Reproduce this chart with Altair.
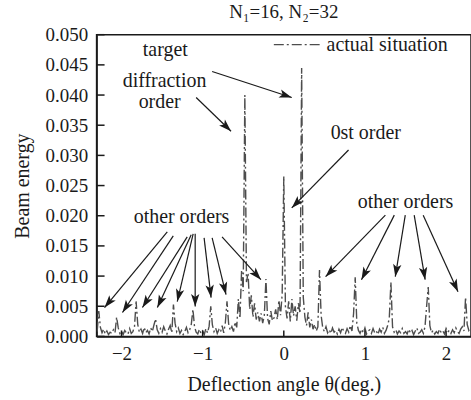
import math
import altair as alt
import pandas as pd

# ---------------- data ----------------
angle_start = -2.30
angle_step = 0.02
# beam energy, in units of 1e-3 (one value per 0.02 deg)
energy_milli = [
    0.8, 4.2, 1.5, 0.6, 1.2, 0.4, 0.9, 0.3, 0.7, 0.5,
    1.1, 0.6, 3.2, 1.4, 0.5, 0.9, 0.3, 1.0, 0.6, 0.4,
    1.3, 0.5, 0.8, 1.6, 5.8, 2.0, 0.7, 1.2, 0.5, 1.5,
    0.6, 1.0, 0.4, 1.4, 0.8, 1.9, 2.9, 1.1, 0.5, 1.3,
    0.7, 1.6, 0.9, 0.4, 1.2, 1.8, 0.6, 5.3, 2.2, 0.8,
    1.4, 0.5, 1.0, 0.3, 0.8, 1.5, 0.6, 1.1, 2.0, 4.5,
    1.6, 0.7, 0.4, 1.2, 0.5, 0.9, 0.3, 1.3, 0.6, 1.7,
    5.0, 1.9, 0.8, 1.4, 0.5, 1.1, 0.7, 1.8, 0.6, 2.3,
    5.8, 2.1, 1.0, 1.6, 0.8, 2.4, 1.5, 6.2, 3.0, 11.0,
    7.5, 40.0, 9.0, 10.5, 4.5, 6.8, 3.2, 5.5, 2.8, 4.0,
    2.5, 3.8, 2.2, 3.5, 9.5, 3.0, 2.0, 4.2, 2.6, 3.1,
    4.5, 2.8, 6.0, 3.5, 7.0, 26.5, 5.0, 3.0, 5.8, 2.5,
    6.2, 3.4, 5.0, 2.6, 5.5, 3.8, 44.5, 6.5, 3.2, 1.8,
    4.0, 1.5, 2.8, 1.2, 2.0, 0.9, 1.6, 11.0, 3.5, 1.4,
    0.8, 1.6, 0.6, 1.1, 0.5, 1.4, 0.7, 1.0, 0.4, 1.2,
    0.6, 1.5, 0.8, 0.5, 1.3, 0.7, 1.8, 0.9, 3.8, 9.8,
    2.2, 1.0, 0.5, 1.2, 0.6, 1.4, 0.4, 0.9, 1.1, 0.5,
    1.3, 0.6, 0.9, 0.3, 1.2, 0.7, 1.5, 0.5, 1.0, 1.8,
    3.0, 9.0, 1.6, 0.7, 1.1, 0.4, 0.9, 0.6, 1.3, 0.5,
    0.8, 0.4, 1.2, 0.6, 1.0, 0.3, 0.9, 1.4, 0.5, 0.7,
    1.1, 0.5, 1.6, 5.0, 8.2, 1.8, 0.6, 1.0, 0.4, 0.8,
    0.5, 1.2, 0.6, 0.9, 0.4, 1.3, 0.7, 1.0, 0.5, 1.1,
    0.6, 1.4, 0.8, 0.5, 1.2, 1.6, 0.9, 6.5, 2.0, 1.0,
    1.5,
]
angles = [round(angle_start + angle_step * i, 2) for i in range(len(energy_milli))]

x_tick_values = [-2, -1, 0, 1, 2]
y_tick_values = [0.000, 0.005, 0.010, 0.015, 0.020, 0.025, 0.030, 0.035, 0.040, 0.045, 0.050]

title_text = "N₁=16, N₂=32"
legend_label = "actual situation"

label_text = ["target", "diffraction", "order", "0st order", "other orders", "other orders"]
label_x = [-1.46, -1.47, -1.53, 1.01, -1.26, 1.50]
label_y = [0.0474, 0.0424, 0.0388, 0.0337, 0.0198, 0.0223]

arrow_x1 = [-0.883, -1.080, 0.798,
            -1.436, -1.362, -1.190, -1.141, -1.117, -1.092, -0.982, -0.883, -0.761,
            1.252, 1.362, 1.497, 1.607, 1.718]
arrow_y1 = [0.0439, 0.0396, 0.0309,
            0.01733, 0.01667, 0.0165, 0.01683, 0.0170, 0.0170, 0.01634, 0.01634, 0.0165,
            0.0201, 0.0201, 0.0201, 0.0201, 0.0201]
arrow_x2 = [0.098, -0.650, 0.098,
            -2.209, -1.988, -1.742, -1.558, -1.313, -1.092, -0.896, -0.712, -0.282,
            0.515, 0.957, 1.374, 1.742, 2.147]
arrow_y2 = [0.0396, 0.0340, 0.0213,
            0.00479, 0.00396, 0.00479, 0.00479, 0.00578, 0.00495, 0.00644, 0.00693, 0.00941,
            0.0099, 0.0094, 0.0099, 0.0094, 0.0074]

# ---------------- layout / style ----------------
W, H = 376, 303
X_DOMAIN = [-2.307, 2.307]
Y_DOMAIN = [0.0, 0.05]
px_x = W / (X_DOMAIN[1] - X_DOMAIN[0])
px_y = H / (Y_DOMAIN[1] - Y_DOMAIN[0])
FONT = "Liberation Serif"
INK = "#1a1a1a"
LINE = "#4d4d4d"
DASH = [10, 3, 2, 3]
TXT = 20

xscale = alt.Scale(domain=X_DOMAIN, nice=False, zero=False)
yscale = alt.Scale(domain=Y_DOMAIN, nice=False, zero=False)
xaxis = alt.Axis(title="Deflection angle θ(deg.)", values=x_tick_values, format="d",
                 tickSize=0, labelPadding=8, titlePadding=11, grid=False)
yaxis = alt.Axis(title="Beam energy", values=y_tick_values, format=".3f",
                 tickSize=0, labelPadding=9, titlePadding=13, grid=False)


def X(field):
    return alt.X(field, type="quantitative", scale=xscale, axis=xaxis)


def Y(field):
    return alt.Y(field, type="quantitative", scale=yscale, axis=yaxis)


series = pd.DataFrame({"angle": angles, "energy": [v / 1000 for v in energy_milli]})

line = alt.Chart(series).mark_line(
    color=LINE, strokeWidth=1.4, strokeDash=DASH, clip=True
).encode(x=X("angle"), y=Y("energy"))

ytick = alt.Chart(pd.DataFrame({"v": y_tick_values})).mark_rule(
    color=INK, strokeWidth=1.5
).encode(y=Y("v"), x=alt.value(0), x2=alt.value(8))

xtick = alt.Chart(pd.DataFrame({"v": x_tick_values})).mark_rule(
    color=INK, strokeWidth=1.5
).encode(x=X("v"), y=alt.value(H), y2=alt.value(H - 6))

arrows = pd.DataFrame({"x1": arrow_x1, "y1": arrow_y1, "x2": arrow_x2, "y2": arrow_y2})
arrows["ang"] = [
    math.degrees(math.atan2((b - a) * px_x, (d - c) * px_y)) % 360
    for a, b, c, d in zip(arrow_x1, arrow_x2, arrow_y1, arrow_y2)
]

shafts = alt.Chart(arrows).mark_rule(color=INK, strokeWidth=1.2).encode(
    x=X("x1"), y=Y("y1"), x2="x2", y2="y2"
)
heads = alt.Chart(arrows).mark_point(
    shape="M0,0 L0.7,2.1 L0,1.6 L-0.7,2.1 Z", filled=True, size=144,
    color=INK, opacity=1, strokeWidth=0
).encode(x=X("x2"), y=Y("y2"), angle=alt.Angle("ang:Q", scale=None))

labels = alt.Chart(pd.DataFrame({"t": label_text, "x": label_x, "y": label_y})).mark_text(
    font=FONT, fontSize=TXT, color=INK, baseline="middle", align="center"
).encode(x=X("x"), y=Y("y"), text="t:N")

leg_df = pd.DataFrame({"t": [legend_label]})
leg_line = alt.Chart(leg_df).mark_rule(color=LINE, strokeWidth=1.4, strokeDash=DASH).encode(
    x=alt.value(178), x2=alt.value(226), y=alt.value(10)
)
leg_text = alt.Chart(leg_df).mark_text(
    font=FONT, fontSize=TXT, color=INK, align="left", baseline="middle"
).encode(x=alt.value(231), y=alt.value(10), text="t:N")

chart = alt.layer(line, ytick, xtick, shafts, heads, labels, leg_line, leg_text).properties(
    width=W, height=H,
    title=alt.TitleParams(text=title_text, font=FONT, fontSize=19, fontWeight="normal",
                          color=INK, anchor="middle", offset=4),
    autosize=alt.AutoSizeParams(type="none"),
    padding={"left": 97, "top": 34, "right": 0, "bottom": 63},
).configure(font=FONT).configure_view(stroke=INK, strokeWidth=1.5).configure_axis(
    domainColor=INK, domainWidth=1.5, labelFont=FONT, labelFontSize=19, labelColor=INK,
    titleFont=FONT, titleFontSize=TXT, titleFontWeight="normal", titleColor=INK,
)

chart.save("out.html", embed_options={"renderer": "svg", "actions": False})
